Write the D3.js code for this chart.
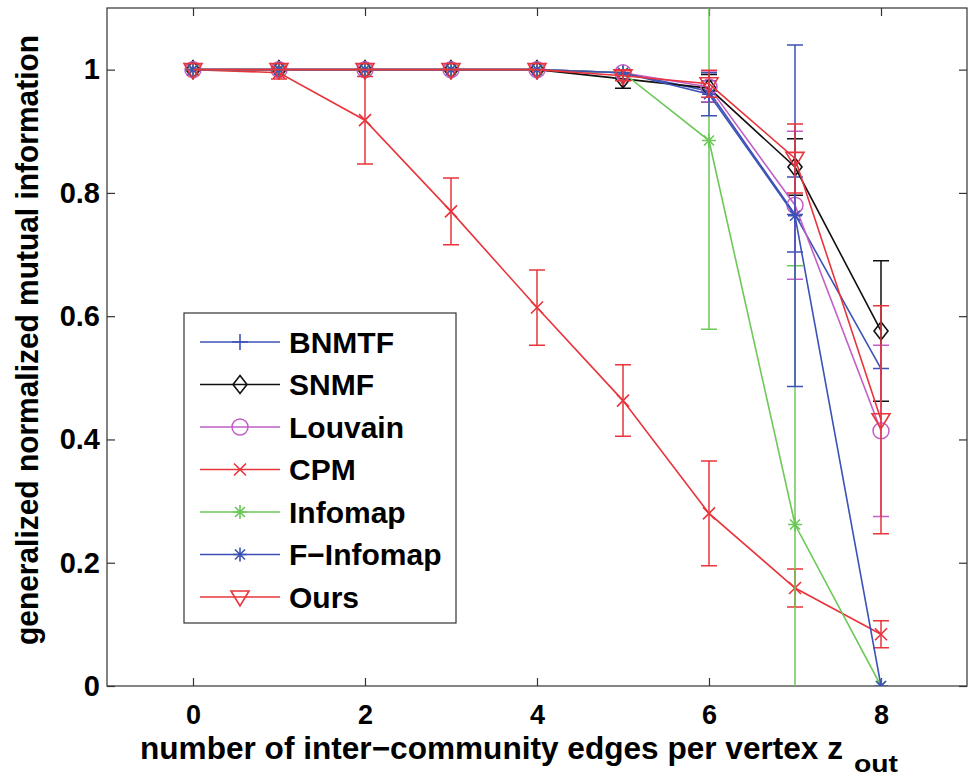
<!DOCTYPE html>
<html>
<head>
<meta charset="utf-8">
<script src="https://cdn.jsdelivr.net/npm/d3@7"></script>
<style>
  html, body { margin: 0; padding: 0; background: #fff; }
  svg { display: block; }
</style>
</head>
<body>
<svg id="chart" width="975" height="779"></svg>
<script>
// Inter-community edges per vertex
const zout = [0, 1, 2, 3, 4, 5, 6, 7, 8];

// Mean GNMI and error (half-length of the error bar) per method
const bnmtfMean    = [1, 1, 1, 1, 1, 0.995, 0.965, 0.765, 0.515];
const bnmtfErr     = [0, 0, 0, 0, 0, 0.004, 0.017, 0.061, 0];
const snmfMean     = [1, 1, 1, 1, 1, 0.985, 0.970, 0.842, 0.576];
const snmfErr      = [0, 0, 0, 0, 0, 0.015, 0.022, 0.046, 0.114];
const louvainMean  = [1, 1, 1, 1, 1, 0.995, 0.972, 0.780, 0.414];
const louvainErr   = [0, 0, 0, 0, 0, 0.004, 0.024, 0.120, 0.139];
const cpmMean      = [1, 0.995, 0.918, 0.770, 0.614, 0.463, 0.280, 0.159, 0.084];
const cpmErr       = [0, 0.010, 0.071, 0.054, 0.061, 0.058, 0.085, 0.031, 0.022];
const infomapMean  = [1, 1, 1, 1, 1, 0.995, 0.885, 0.262, 0];
const infomapErr   = [0, 0, 0, 0, 0, 0.004, 0.306, 0.420, 0];
const finfomapMean = [1, 1, 1, 1, 1, 0.995, 0.960, 0.763, 0];
const finfomapErr  = [0, 0, 0, 0, 0, 0.004, 0.035, 0.277, 0];
const oursMean     = [1, 1, 1, 1, 1, 0.990, 0.977, 0.856, 0.432];
const oursErr      = [0, 0, 0, 0, 0, 0.008, 0.022, 0.056, 0.185];

const methodNames = ["BNMTF", "SNMF", "Louvain", "CPM", "Infomap", "F\u2212Infomap", "Ours"];

const xTicks = [0, 2, 4, 6, 8];
const yTicks = [0, 0.2, 0.4, 0.6, 0.8, 1];
const yTickLabels = ["0", "0.2", "0.4", "0.6", "0.8", "1"];

// Line colour and marker for each method
const styles = {
  "BNMTF":        { color: "#3c52b6", marker: "plus" },
  "SNMF":         { color: "#111111", marker: "diamond" },
  "Louvain":      { color: "#c35fc6", marker: "circle" },
  "CPM":          { color: "#e8343a", marker: "x" },
  "Infomap":      { color: "#6cc858", marker: "star" },
  "F\u2212Infomap": { color: "#3c52b6", marker: "star" },
  "Ours":         { color: "#e8343a", marker: "triDown" }
};

const means = [bnmtfMean, snmfMean, louvainMean, cpmMean, infomapMean, finfomapMean, oursMean];
const errs  = [bnmtfErr, snmfErr, louvainErr, cpmErr, infomapErr, finfomapErr, oursErr];

const series = methodNames.map((name, i) => ({
  name,
  points: zout.map((z, j) => ({ z, v: means[i][j], e: errs[i][j] }))
}));

// Layout
const L = 107, R = 967, T = 8, B = 686;
const x = d3.scaleLinear().domain([-1, 9]).range([L, R]);
const y = d3.scaleLinear().domain([0, 1.1]).range([B, T]);

const svg = d3.select("#chart");

svg.append("defs").append("clipPath").attr("id", "plotClip")
  .append("rect").attr("x", L).attr("y", T).attr("width", R - L).attr("height", B - T);

// Marker path generators (centered on 0,0)
function markerPath(kind) {
  switch (kind) {
    case "plus":    return "M-8,0H8M0,-8V8";
    case "x":       return "M-6,-6L6,6M-6,6L6,-6";
    case "star":    return "M-7,0H7M0,-7V7M-5,-5L5,5M-5,5L5,-5";
    case "diamond": return "M0,-9L7,0L0,9L-7,0Z";
    case "triDown": return "M-9,-6L9,-6L0,9Z";
  }
}
function drawMarker(g, kind, color, cx, cy) {
  if (kind === "circle") {
    g.append("circle").attr("cx", cx).attr("cy", cy).attr("r", 8)
      .attr("fill", "none").attr("stroke", color).attr("stroke-width", 1.5);
  } else {
    g.append("path").attr("d", markerPath(kind))
      .attr("transform", `translate(${cx},${cy})`)
      .attr("fill", "none").attr("stroke", color).attr("stroke-width", 1.6)
      .attr("stroke-linejoin", "miter");
  }
}

// Frame
svg.append("rect").attr("x", L).attr("y", T).attr("width", R - L).attr("height", B - T)
  .attr("fill", "#fff").attr("stroke", "#333").attr("stroke-width", 1.2);

// Axes with inward ticks
const xAxis = d3.axisBottom(x).tickValues(xTicks).tickSizeInner(-8).tickSizeOuter(0).tickPadding(19)
  .tickFormat(d3.format("d"));
const yAxis = d3.axisLeft(y).tickValues(yTicks).tickSizeInner(-8).tickSizeOuter(0).tickPadding(7)
  .tickFormat((d, i) => yTickLabels[i]);

const gx = svg.append("g").attr("transform", `translate(0,${B})`).call(xAxis);
gx.select(".domain").remove();
gx.selectAll("line").attr("stroke", "#333").attr("stroke-width", 1.2);
gx.selectAll("text").attr("font-family", "'Liberation Sans', Arial, sans-serif")
  .attr("font-weight", "bold").attr("font-size", 27).attr("fill", "#000");

const gy = svg.append("g").attr("transform", `translate(${L},0)`).call(yAxis);
gy.select(".domain").remove();
gy.selectAll("line").attr("stroke", "#333").attr("stroke-width", 1.2);
gy.selectAll("text").attr("font-family", "'Liberation Sans', Arial, sans-serif")
  .attr("font-weight", "bold").attr("font-size", 29).attr("fill", "#000");

// Mirror ticks on top and right edges
const gxTop = svg.append("g").attr("transform", `translate(0,${T})`)
  .call(d3.axisTop(x).tickValues(xTicks).tickSizeInner(-8).tickSizeOuter(0).tickFormat(""));
gxTop.select(".domain").remove();
gxTop.selectAll("line").attr("stroke", "#333").attr("stroke-width", 1.2);
const gyRight = svg.append("g").attr("transform", `translate(${R},0)`)
  .call(d3.axisRight(y).tickValues(yTicks).tickSizeInner(-8).tickSizeOuter(0).tickFormat(""));
gyRight.select(".domain").remove();
gyRight.selectAll("line").attr("stroke", "#333").attr("stroke-width", 1.2);

// Data layer
const plot = svg.append("g").attr("clip-path", "url(#plotClip)");
const line = d3.line().x(d => x(d.z)).y(d => y(d.v));
const capHalf = 8;

series.forEach(s => {
  const st = styles[s.name];
  const g = plot.append("g");
  g.append("path").datum(s.points).attr("d", line)
    .attr("fill", "none").attr("stroke", st.color).attr("stroke-width", 1.6);
  s.points.filter(p => p.e > 0).forEach(p => {
    const cx = x(p.z), y1 = y(p.v + p.e), y0 = y(p.v - p.e);
    g.append("path")
      .attr("d", `M${cx},${y1}V${y0}M${cx - capHalf},${y1}H${cx + capHalf}M${cx - capHalf},${y0}H${cx + capHalf}`)
      .attr("fill", "none").attr("stroke", st.color).attr("stroke-width", 1.5);
  });
  s.points.forEach(p => drawMarker(g, st.marker, st.color, x(p.z), y(p.v)));
});

// Legend
const legX = 184, legY = 313, legW = 272, legH = 310, rowY0 = 342, rowStep = 42.5;
const leg = svg.append("g");
leg.append("rect").attr("x", legX).attr("y", legY).attr("width", legW).attr("height", legH)
  .attr("fill", "#fff").attr("stroke", "#333").attr("stroke-width", 1.2);
methodNames.forEach((name, i) => {
  const st = styles[name];
  const cy = rowY0 + i * rowStep;
  leg.append("line").attr("x1", 200).attr("x2", 280).attr("y1", cy).attr("y2", cy)
    .attr("stroke", st.color).attr("stroke-width", 1.5);
  drawMarker(leg, st.marker, st.color, 240, cy);
  leg.append("text").attr("x", 289).attr("y", cy).attr("dy", "0.36em")
    .attr("font-family", "'Liberation Sans', Arial, sans-serif").attr("font-weight", "bold")
    .attr("font-size", 30).attr("fill", "#000").text(name);
});

// Axis titles (condensed bold)
const titleFont = "'Liberation Sans', Arial, sans-serif";
svg.append("text").attr("x", 140).attr("y", 759)
  .attr("font-family", titleFont).attr("font-weight", "bold").attr("font-size", 31).attr("fill", "#000")
  .attr("textLength", 703).attr("lengthAdjust", "spacingAndGlyphs")
  .text("number of inter\u2212community edges per vertex z");
svg.append("text").attr("x", 854).attr("y", 772)
  .attr("font-family", titleFont).attr("font-weight", "bold").attr("font-size", 23).attr("fill", "#000")
  .attr("textLength", 44).attr("lengthAdjust", "spacingAndGlyphs")
  .text("out");

svg.append("text").attr("transform", "translate(38,340) rotate(-90)")
  .attr("text-anchor", "middle")
  .attr("font-family", titleFont).attr("font-weight", "bold").attr("font-size", 31).attr("fill", "#000")
  .attr("textLength", 610).attr("lengthAdjust", "spacingAndGlyphs")
  .text("generalized normalized mutual information");
</script>
</body>
</html>
